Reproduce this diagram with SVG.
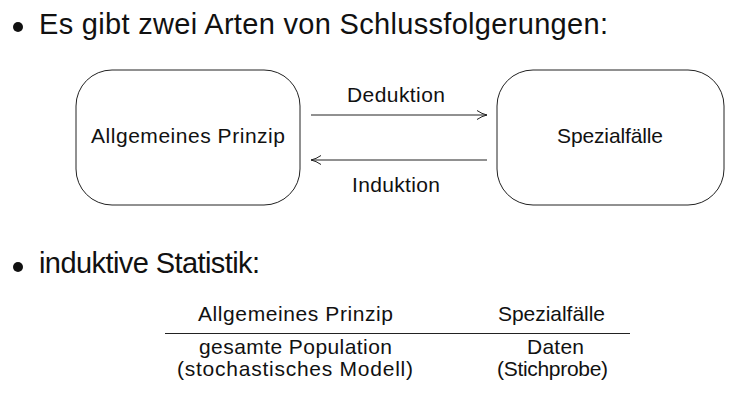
<svg xmlns="http://www.w3.org/2000/svg" width="735" height="411" viewBox="0 0 735 411">
<style>
text{font-family:"Liberation Sans",Arial,sans-serif;fill:#111}
.big{font-size:29px}
.med{font-size:21px}
.c{text-anchor:middle}
.box{fill:#fff;stroke:#222;stroke-width:1}
.conn{stroke:#222;stroke-width:1;fill:none}
</style>
<defs>
<marker id="arr" viewBox="0 0 12 12" refX="11" refY="6" markerWidth="12" markerHeight="12" markerUnits="userSpaceOnUse" orient="auto">
<path d="M1,1.5 Q6,5 11,6 Q6,7 1,10.5" fill="none" stroke="#222" stroke-width="1"/>
</marker>
</defs>
<g id="bullet1">
<circle cx="18" cy="27" r="5" fill="#111"/>
<text class="big" x="39" y="34" textLength="569">Es gibt zwei Arten von Schlussfolgerungen:</text>
</g>
<g id="node-allgemein">
<rect class="box" x="76" y="70" width="224" height="135" rx="36" ry="36"/>
<text class="med c" x="188" y="143" textLength="194">Allgemeines Prinzip</text>
</g>
<g id="node-speziell">
<rect class="box" x="497" y="70" width="227" height="135" rx="36" ry="36"/>
<text class="med c" x="610" y="143" textLength="106">Spezialfälle</text>
</g>
<g id="connectors">
<line class="conn" x1="311" y1="115" x2="487" y2="115" marker-end="url(#arr)"/>
<text class="med c" x="396" y="102" textLength="98">Deduktion</text>
<line class="conn" x1="487" y1="160" x2="311" y2="160" marker-end="url(#arr)"/>
<text class="med c" x="396" y="192" textLength="88">Induktion</text>
</g>
<g id="bullet2">
<circle cx="18" cy="267" r="5" fill="#111"/>
<text class="big" x="39" y="273" textLength="221">induktive Statistik:</text>
</g>
<g id="table">
<text class="med c" x="295.5" y="321" textLength="195">Allgemeines Prinzip</text>
<text class="med c" x="551.5" y="321" textLength="107">Spezialfälle</text>
<line x1="165" y1="333.5" x2="630" y2="333.5" stroke="#222" stroke-width="1"/>
<text class="med c" x="295.5" y="354" textLength="193">gesamte Population</text>
<text class="med c" x="555.5" y="354" textLength="57">Daten</text>
<text class="med c" x="295" y="376" textLength="236">(stochastisches Modell)</text>
<text class="med c" x="552.5" y="376" textLength="111">(Stichprobe)</text>
</g>
</svg>
